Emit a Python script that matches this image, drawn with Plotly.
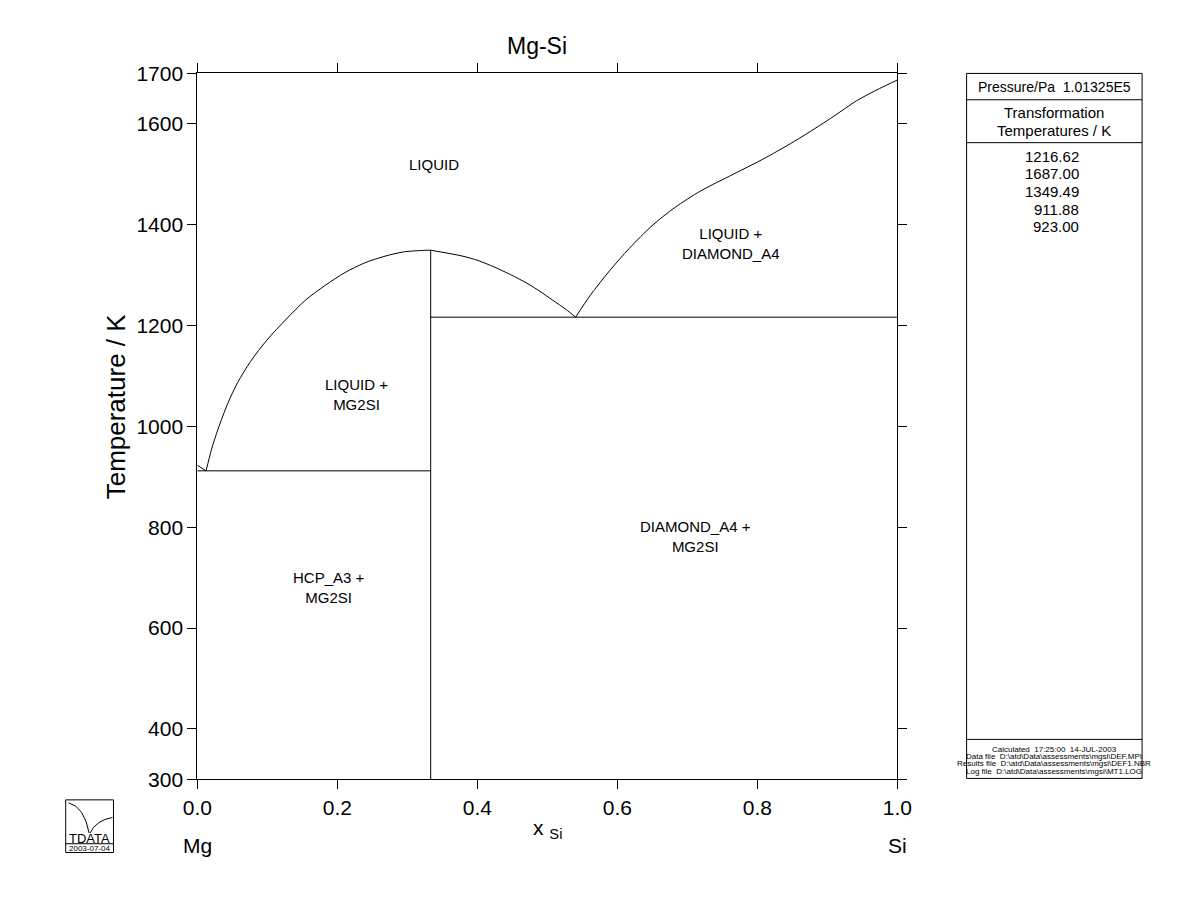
import plotly.graph_objects as go

# ---------------- data ----------------
liq_mg_x = [0.0, 0.0125]
liq_mg_T = [923.0, 911.88]

liq_left_x = [0.0125, 0.0204, 0.0297, 0.0436, 0.0576, 0.0761, 0.0993, 0.1272, 0.155, 0.183,
              0.2108, 0.2386, 0.2665, 0.2943, 0.322, 0.33333]
liq_left_T = [911.88, 955, 995, 1046, 1087, 1129, 1171, 1213, 1251, 1280,
              1305, 1324, 1337, 1346, 1349, 1349.49]

liq_mid_x = [0.33333, 0.378, 0.401, 0.4243, 0.4475, 0.4708, 0.4893, 0.5079, 0.5265, 0.5404]
liq_mid_T = [1349.49, 1338, 1329, 1316, 1301, 1284, 1268, 1250, 1232, 1216.62]

liq_si_x = [0.5404, 0.5613, 0.5891, 0.617, 0.6495, 0.682, 0.719, 0.7655, 0.812, 0.8584,
            0.9048, 0.942, 0.9745, 1.0]
liq_si_T = [1216.62, 1260, 1309, 1353, 1398, 1434, 1467, 1500, 1533, 1570,
            1611, 1646, 1670, 1687.0]

eut_mg_T = 911.88
eut_si_T = 1216.62
mg2si_x = 1.0 / 3.0
mg2si_Tmax = 1349.49
T_min = 300

phase_labels = ["LIQUID", "LIQUID +<br>DIAMOND_A4", "LIQUID +<br>MG2SI",
                "DIAMOND_A4 +<br>MG2SI", "HCP_A3 +<br>MG2SI"]
phase_x = [0.338, 0.763, 0.227, 0.712, 0.188]
phase_T = [1520, 1363, 1064, 782, 681]

x_ticks = [0.0, 0.2, 0.4, 0.6, 0.8, 1.0]
y_ticks = [300, 400, 600, 800, 1000, 1200, 1400, 1600, 1700]

trans_temps = ["1216.62", "1687.00", "1349.49", "911.88", "923.00"]
info_lines = ["Calculated  17:25:00  14-JUL-2003",
              "Data file  D:\\atd\\Data\\assessments\\mgsi\\DEF.MPI",
              "Results file  D:\\atd\\Data\\assessments\\mgsi\\DEF1.NBR",
              "Log file  D:\\atd\\Data\\assessments\\mgsi\\MT1.LOG"]

# ---------------- figure ----------------
W, H = 1200, 923
FONT = "Liberation Sans, Arial, Helvetica, sans-serif"


def px(x):
    return x / W


def py(y):
    return 1 - y / H


line_style = dict(color="black", width=1)
spl = dict(color="black", width=1, shape="spline", smoothing=0.8)
fig = go.Figure()
fig.add_trace(go.Scatter(x=liq_mg_x, y=liq_mg_T, mode="lines", line=line_style))
fig.add_trace(go.Scatter(x=liq_left_x, y=liq_left_T, mode="lines", line=spl))
fig.add_trace(go.Scatter(x=liq_mid_x, y=liq_mid_T, mode="lines", line=spl))
fig.add_trace(go.Scatter(x=liq_si_x, y=liq_si_T, mode="lines", line=spl))
fig.add_trace(go.Scatter(x=[0, mg2si_x], y=[eut_mg_T, eut_mg_T], mode="lines", line=line_style))
fig.add_trace(go.Scatter(x=[mg2si_x, 1.0], y=[eut_si_T, eut_si_T], mode="lines", line=line_style))
fig.add_trace(go.Scatter(x=[mg2si_x, mg2si_x], y=[T_min, mg2si_Tmax], mode="lines", line=line_style))

annotations = []
for t, xx, yy in zip(phase_labels, phase_x, phase_T):
    annotations.append(dict(x=xx, y=yy, xref="x", yref="y", text=t, showarrow=False,
                            font=dict(size=15, color="black", family=FONT)))


def ann(x, y, text, size, xanchor="center", yanchor="middle", textangle=0):
    annotations.append(dict(x=px(x), y=py(y), xref="paper", yref="paper", text=text,
                            showarrow=False, xanchor=xanchor, yanchor=yanchor,
                            textangle=textangle,
                            font=dict(size=size, color="black", family=FONT)))


ann(535, 35, "Mg-Si", 23)
ann(104, 404, "Temperature / K", 26, textangle=-90)
ann(546, 838, "x <sub>Si</sub>", 21)
ann(187, 855, "Mg", 21)
ann(905, 855, "Si", 21)

# side panel
ann(1066, 77, "Pressure/Pa\u00a0\u00a01.01325E5", 14)
ann(1066, 103, "Transformation", 15)
ann(1066, 122, "Temperatures / K", 15)
for i, v in enumerate(trans_temps):
    ann(1093, 148 + 18.1 * i, v, 15, xanchor="right")
for i, s in enumerate(info_lines):
    ann(1066, 756 + 7.6 * i, s, 8)

# logo
ann(76, 848, "TDATA", 13)
ann(76, 857.5, "2003-07-04", 8)

shapes = [
    dict(type="rect", xref="paper", yref="paper", x0=px(976), x1=px(1156), y0=py(63), y1=py(786),
         line=dict(color="black", width=1)),
    dict(type="line", xref="paper", yref="paper", x0=px(976), x1=px(1156), y0=py(90), y1=py(90),
         line=dict(color="black", width=1)),
    dict(type="line", xref="paper", yref="paper", x0=px(976), x1=px(1156), y0=py(134), y1=py(134),
         line=dict(color="black", width=1)),
    dict(type="line", xref="paper", yref="paper", x0=px(976), x1=px(1156), y0=py(746), y1=py(746),
         line=dict(color="black", width=1)),
    dict(type="rect", xref="paper", yref="paper", x0=px(52), x1=px(101), y0=py(808), y1=py(862),
         line=dict(color="black", width=1)),
    dict(type="line", xref="paper", yref="paper", x0=px(52), x1=px(101), y0=py(853), y1=py(853),
         line=dict(color="black", width=1)),
    dict(type="path", xref="paper", yref="paper",
         path=f"M {px(55)} {py(811)} Q {px(71)} {py(815)} {px(76)} {py(842)}",
         line=dict(color="black", width=1)),
    dict(type="path", xref="paper", yref="paper",
         path=f"M {px(77)} {py(842)} Q {px(83)} {py(829)} {px(100)} {py(826)}",
         line=dict(color="black", width=1)),
]

axis_common = dict(showline=True, linecolor="black", linewidth=1, mirror="allticks",
                   ticks="outside", ticklen=9, tickcolor="black", tickwidth=1,
                   showgrid=False, zeroline=False,
                   tickfont=dict(size=21, color="black", family=FONT))

fig.update_layout(
    width=W, height=H,
    margin=dict(l=0, r=0, t=0, b=0),
    paper_bgcolor="white", plot_bgcolor="white",
    showlegend=False,
    xaxis=dict(domain=[px(187), px(905)], range=[0, 1], tickvals=x_ticks,
               ticktext=[f"{v:.1f}" for v in x_ticks], **axis_common),
    yaxis=dict(domain=[py(787), py(63)], range=[300, 1700], tickvals=y_ticks,
               **axis_common),
    annotations=annotations,
    shapes=shapes,
    font=dict(family=FONT, color="black"),
)

fig.write_html("out.html")
